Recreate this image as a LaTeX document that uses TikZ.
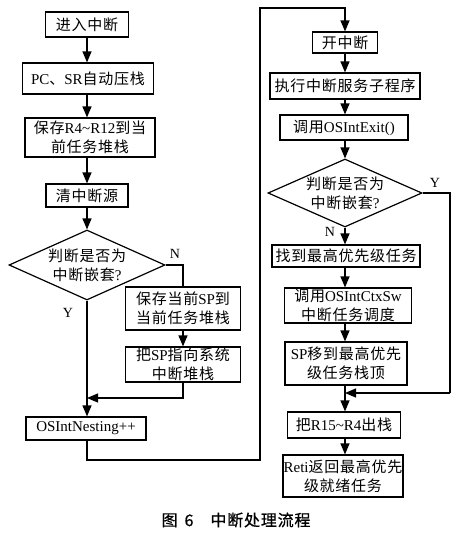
\documentclass[tikz,border=0pt]{standalone}
\usepackage{fontspec}
\setmainfont{Noto Sans CJK SC}[LetterSpace=5]
\newfontfamily\lat{Liberation Serif}
\newfontfamily\capfont{Noto Sans CJK SC}[FakeBold=0.8,LetterSpace=5]
\usetikzlibrary{arrows.meta,shapes.geometric}
\newcommand\La[1]{{\lat #1}}
\begin{document}
\begin{tikzpicture}[x=1pt,y=-1pt, line width=1.2pt,
  box/.style={draw, rectangle, inner sep=0pt, align=center, font=\fontsize{15}{19}\selectfont},
  sz/.style 2 args={minimum width=#1pt, minimum height=#2pt},
  dia/.style={draw, diamond, inner sep=0pt},
  diatext/.style={align=center, inner sep=0pt, font=\fontsize{15}{19}\selectfont},
  arr/.style={-{Triangle[length=11pt,width=9pt]}},
  lbl/.style={font=\lat\fontsize{14}{16}\selectfont, inner sep=0pt},
  captext/.style={font=\capfont\fontsize{16}{18}\selectfont, inner sep=0pt, anchor=west}]
\useasboundingbox (0,0) rectangle (458,541);

% left column
\node[box, sz={83}{25}] (n1) at (87,24.5) {进入中断};
\node[box, sz={131}{31}] (n2) at (88,78.5) {\La{PC}、\La{SR}自动压栈};
\node[box, sz={130}{39}] (n3) at (90,137.5) {保存\La{R4\textasciitilde R12}到当\\前任务堆栈};
\node[box, sz={82}{23}] (n4) at (87,195.5) {清中断源};
\node[dia, minimum width=156pt, minimum height=70pt] (d1) at (87,265) {};
\node[diatext] (d1t) at (87,265) {判断是否为\\中断嵌套\La{?}};
\node[box, sz={115}{43}] (n5) at (183,308.5) {保存当前\La{SP}到\\当前任务堆栈};
\node[box, sz={115}{35}] (n6) at (183,364.5) {把\La{SP}指向系统\\中断堆栈};
\node[box, sz={120}{23}] (n7) at (86,428.5) {\La{OSIntNesting++}};

% right column
\node[box, sz={65}{21}] (r1) at (345,42.5) {开中断};
\node[box, sz={150}{26}] (r2) at (345,86) {执行中断服务子程序};
\node[box, sz={128}{25}] (r3) at (344,127.5) {调用\La{OSIntExit()}};
\node[dia, minimum width=154pt, minimum height=68pt] (d2) at (345,193) {};
\node[diatext] (d2t) at (345,193) {判断是否为\\中断嵌套\La{?}};
\node[box, sz={148}{22}] (r4) at (346,256) {找到最高优先级任务};
\node[box, sz={127}{35}] (r5) at (348,305.5) {调用\La{OSIntCtxSw}\\中断任务调度};
\node[box, sz={122}{43}] (r6) at (346,363.5) {\La{SP}移到最高优先\\级任务栈顶};
\node[box, sz={113}{26}] (r7) at (344,425) {把\La{R15\textasciitilde R4}出栈};
\node[box, sz={120}{42}] (r8) at (343,476) {\La{Reti}返回最高优先\\级就绪任务};

% labels
\node[lbl] (lN1) at (175,254) {N};
\node[lbl] (lY1) at (68,313) {Y};
\node[lbl] (lY2) at (435,183) {Y};
\node[lbl] (lN2) at (330,232) {N};

% caption
\node[captext] (capt) at (161,520) {图\hspace{7pt}6\hspace{17pt}中断处理流程};

% routing points
\coordinate (j1) at (87,398);
\coordinate (c1) at (260,460);
\coordinate (c2) at (260,8);
\coordinate (c4) at (450,393);
\coordinate (j2) at (345,393);

% left connectors
\draw[arr] (n1.south) -- (n1.south |- n2.north);
\draw[arr] (n2.south -| n1.south) -- (n1.south |- n3.north);
\draw[arr] (n3.south -| n1.south) -- (n1.south |- n4.north);
\draw[arr] (n4.south) -- (d1.north);
\draw (d1.east) -| (n5.north);
\draw[arr] (n5.south) -- (n6.north);
\draw[arr] (n6.south) |- (j1);
\draw[arr] (d1.south) -- (d1.south |- n7.north);
\draw[arr] (n7.south -| d1.south) |- (c1) -- (c2) -| (r1.north);

% right connectors
\draw[arr] (r1.south) -- (r2.north);
\draw[arr] (r2.south) -- (r2.south |- r3.north);
\draw[arr] (r3.south -| r2.south) -- (d2.north);
\draw[arr] (d2.south) -- (d2.south |- r4.north);
\draw[arr] (r4.south -| d2.south) -- (d2.south |- r5.north);
\draw[arr] (r5.south -| d2.south) -- (d2.south |- r6.north);
\draw (d2.east) -| (c4);
\draw[arr] (c4) -- (j2);
\draw[arr] (r6.south -| d2.south) -- (d2.south |- r7.north);
\draw[arr] (r7.south -| d2.south) -- (d2.south |- r8.north);
\end{tikzpicture}
\end{document}
